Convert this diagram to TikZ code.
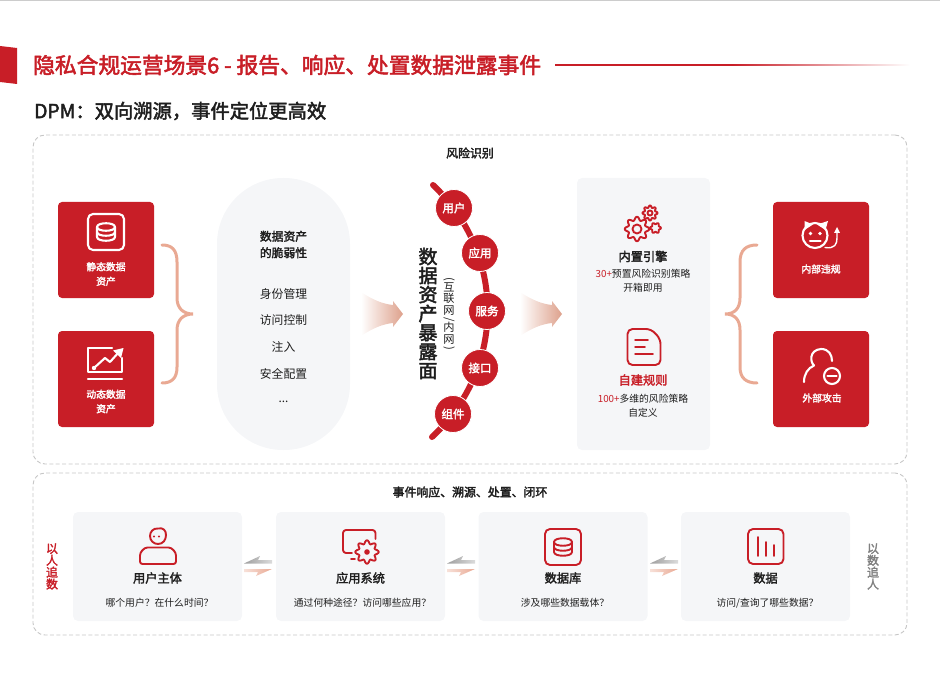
\documentclass[tikz,border=0pt]{standalone}
\usepackage{fontspec}
\setmainfont{Noto Sans CJK SC}[BoldFont=Noto Sans CJK SC, BoldFeatures={FakeBold=2.4}]
\usepackage{tikz}
\usetikzlibrary{positioning, arrows.meta, shapes.geometric, calc}
\newcommand{\pxfont}[1]{\fontsize{#1}{#1}\selectfont}
\newcommand{\sidewise}[1]{\rotatebox[origin=c]{-90}{#1}}
\definecolor{dpmred}{HTML}{C81E27}
\definecolor{dpmsalmon}{HTML}{E9A993}
\definecolor{dpmpanel}{HTML}{F5F6F8}
\definecolor{dpmdash}{HTML}{C6C6C6}
\definecolor{dpmink}{HTML}{1E1E1E}
\tikzset{
    titletxt/.style={anchor=west, inner sep=0pt, text=dpmred, font=\pxfont{21.75}\bfseries},
    subtxt/.style={anchor=west, inner sep=0pt, text=dpmink, font=\pxfont{19.3}\bfseries},
    frame/.style={draw=dpmdash, line width=0.9pt, dash pattern=on 4pt off 2.4pt, rounded corners=12pt, minimum width=874pt},
    headtxt/.style={inner sep=0pt, text=dpmink, font=\pxfont{11.9}\bfseries},
    redbox/.style={fill=dpmred, rounded corners=4pt, minimum width=96pt, minimum height=96pt},
    redlbl/.style={inner sep=0pt, text=white, align=center, font=\fontsize{9.8}{14.5}\selectfont\bfseries},
    panel/.style={fill=dpmpanel, rounded corners=5pt},
    card/.style={panel, minimum width=169pt, minimum height=109pt},
    itemtxt/.style={inner sep=0pt, text=dpmink, font=\pxfont{11.8}},
    cardttl/.style={inner sep=0pt, text=dpmink, font=\pxfont{12.2}\bfseries},
    cardsub/.style={inner sep=0pt, text=dpmink, font=\pxfont{9.8}},
    surfnode/.style={circle, fill=dpmred, draw=white, line width=0.8pt, minimum size=37pt, inner sep=0pt, text=white, font=\pxfont{11.5}\bfseries},
    stacktxt/.style={inner sep=0pt, align=center, font=\pxfont{11.9}\bfseries},
    bracepath/.style={draw=dpmsalmon, line width=3pt, line cap=round},
    redline/.style={draw=dpmred, line width=1.9pt, line cap=round, line join=round},
    whiteline/.style={draw=white, line width=2.1pt, line cap=round, line join=round},
    pics/dbicon/.style={code={
        \draw[#1, rounded corners=5pt] (-18,-18) rectangle (18,18);
        \draw[#1] (-9,-5) .. controls (-9,-10) and (9,-10) .. (9,-5) .. controls (9,0) and (-9,0) .. cycle;
        \draw[#1] (-9,-5) -- (-9,5) .. controls (-9,10) and (9,10) .. (9,5) -- (9,-5);
        \draw[#1] (-9,0) .. controls (-9,5) and (9,5) .. (9,0);
    }},
    pics/gearicon/.style 2 args={code={
        \draw[redline] plot[smooth cycle, domain=0:355, samples=72] (\x:{#1*(1+0.17*cos(#2*\x))});
    }},
    pics/fadearrow/.style={code={
        \shade[left color=white, right color=dpmsalmon!95!black] (0,-22) .. controls (12,-14) and (22,-10) .. (32,-9) -- (32,-13) -- (42,0) -- (32,13) -- (32,9) .. controls (22,10) and (12,14) .. (0,22) -- cycle;
    }},
    pics/traceflow/.style={code={
        \shade[left color=black!38, right color=black!14] (0,-2.5) -- (16,-10) -- (14,-6) -- (28,-6) -- (28,-2.5) -- cycle;
        \shade[left color=dpmsalmon!35, right color=dpmsalmon] (0,3) -- (28,3) -- (12,10) -- (14,6) -- (0,6) -- cycle;
    }},
}
\begin{document}
\begin{tikzpicture}[x=1pt, y=-1pt]
    \useasboundingbox (0,0) rectangle (940,679);
    \fill[black!20] (0,0) rectangle (940,1);
    \fill[dpmred] (0,46) -- (17,48) -- (17,84) -- (0,82) -- cycle;
    \node[titletxt] (title) at (33,65) {隐私合规运营场景6 - 报告、响应、处置数据泄露事件};
    \fill[dpmred] (555,64.2) rectangle (732,65.8);
    \shade[left color=dpmred, right color=white] (732,64.2) rectangle (910,65.8);
    \node[subtxt] (subtitle) at (34,111) {DPM：双向溯源，事件定位更高效};

    \node[frame, minimum height=329pt] (riskframe) at (470,299.5) {};
    \node[headtxt] (riskhead) at (470,153) {风险识别};

    \node[redbox] (staticbox) at (106,250) {};
    \node[redbox] (dynamicbox) at (106,379) {};
    \pic at (106,232) {dbicon=whiteline};
    \node[redlbl] (staticlbl) at (106,274) {静态数据\\资产};
    \draw[whiteline] (112,348) -- (88,348) -- (88,372) -- (122,372) -- (122,358);
    \draw[whiteline] (88,379) -- (122,379);
    \draw[whiteline] (94,368) -- (105,358) -- (110,362) -- (119,352);
    \fill[white] (94,368) circle (2.2pt);
    \fill[white] (123.5,348) -- (113,350.5) -- (121,358) -- cycle;
    \node[redlbl] (dynamiclbl) at (106,401.5) {动态数据\\资产};
    \draw[bracepath] (162,245) .. controls (172,245) and (177,250) .. (177,262) -- (177,298) .. controls (177,308) and (183,314) .. (193,314) .. controls (183,314) and (177,320) .. (177,330) -- (177,367) .. controls (177,378) and (172,383) .. (162,383);

    \node[panel, rounded corners=66pt, minimum width=133pt, minimum height=272pt] (weakpanel) at (283.5,314) {};
    \node[inner sep=0pt, align=center, text=dpmink, font=\fontsize{11.8}{16.5}\selectfont\bfseries] (weakhead) at (283.5,244.5) {数据资产\\的脆弱性};
    \node[itemtxt] (item1) at (283.5,294) {身份管理};
    \node[itemtxt] (item2) at (283.5,320.5) {访问控制};
    \node[itemtxt] (item3) at (283.5,347) {注入};
    \node[itemtxt] (item4) at (283.5,374) {安全配置};
    \node[itemtxt] (item5) at (283.5,402) {...};

    \pic at (361,314) {fadearrow};
    \pic at (520,314) {fadearrow};

    \coordinate (arctop) at (433,185);
    \coordinate (arcbot) at (432,437);
    \draw[draw=dpmred, line width=6pt, line cap=round] (arctop) .. controls (506,254) and (506,368) .. (arcbot);
    \node[surfnode] (user) at (454,208) {用户};
    \node[surfnode] (app) at (480,253) {应用};
    \node[surfnode] (service) at (487,311) {服务};
    \node[surfnode] (port) at (480,368) {接口};
    \node[surfnode] (comp) at (453,414) {组件};
    \node[inner sep=0pt, align=center, text=dpmink, font=\pxfont{19}\bfseries] (surftxt) at (428,313.5) {数\\据\\资\\产\\暴\\露\\面};
    \node[inner sep=0pt, align=center, text=dpmink, font=\fontsize{11.2}{11.6}\selectfont] (surfnote) at (449,314.5) {\sidewise{(}\\[-3pt]互\\联\\网\\[-3pt]\sidewise{/}\\[-3pt]内\\网\\[-3pt]\sidewise{)}};

    \node[panel, minimum width=133pt, minimum height=272pt] (rulepanel) at (643.5,314) {};
    \pic at (637,229) {gearicon={10.5}{8}};
    \draw[redline] (637,229) circle (4.5pt);
    \pic at (650,213) {gearicon={6.5}{8}};
    \draw[redline] (650,213) circle (2.5pt);
    \pic at (655.5,228) {gearicon={4.6}{6}};
    \node[cardttl] (enginettl) at (643,256.5) {内置引擎};
    \node[cardsub] (enginesub1) at (643,274) {\textcolor{dpmred}{30+}预置风险识别策略};
    \node[cardsub] (enginesub2) at (643,288) {开箱即用};
    \draw[redline, rounded corners=5pt] (640,329) -- (651,329) -- (660.5,339) -- (660.5,365) -- (627.5,365) -- (627.5,329) -- cycle;
    \draw[redline, line width=1.5pt] (635,340) -- (648,340);
    \draw[redline, line width=1.5pt] (635,347) -- (645,347);
    \draw[redline, line width=1.5pt] (635,354) -- (653,354);
    \node[cardttl, text=dpmred] (customttl) at (643,380) {自建规则};
    \node[cardsub] (customsub1) at (643,399) {\textcolor{dpmred}{100+}多维的风险策略};
    \node[cardsub] (customsub2) at (643,413) {自定义};

    \draw[bracepath] (757,245) .. controls (746,245) and (740,250) .. (740,262) -- (740,298) .. controls (740,308) and (735,314) .. (725,314) .. controls (735,314) and (740,320) .. (740,330) -- (740,367) .. controls (740,378) and (746,383) .. (757,383);

    \node[redbox] (insidebox) at (821,250) {};
    \node[redbox] (outsidebox) at (821,379) {};
    \draw[whiteline] (815,235.5) circle (12.5pt);
    \fill[white] (804.5,230) -- (804.5,221) -- (813,224.5) -- cycle;
    \fill[white] (825.5,230) -- (828,221) -- (817,224.5) -- cycle;
    \fill[white] (810.5,233.5) circle (1.8pt) (820,233.5) circle (1.8pt);
    \draw[whiteline] (810,241) -- (820.5,241);
    \draw[whiteline, line width=1.4pt] (825,247.5) .. controls (835,249) and (837,244) .. (837,238) -- (837,231);
    \fill[white] (837,227) -- (834,233) -- (840,233) -- cycle;
    \node[redlbl] (insidelbl) at (821,269) {内部违规};
    \draw[whiteline] (804,382) .. controls (804,374) and (808,368) .. (814,365.5) .. controls (810,362) and (809,350) .. (821,349) .. controls (829,349) and (832,355) .. (832,361);
    \draw[whiteline] (832,376) circle (8pt);
    \draw[whiteline] (827.5,376) -- (836.5,376);
    \node[redlbl] (outsidelbl) at (822,398) {外部攻击};

    \node[frame, minimum height=162pt] (respframe) at (470,554) {};
    \node[headtxt] (resphead) at (470,492) {事件响应、溯源、处置、闭环};
    \node[card] (usercard) at (157.5,566.5) {};
    \node[card] (appcard) at (360.5,566.5) {};
    \node[card] (dbcard) at (563,566.5) {};
    \node[card] (datacard) at (765.5,566.5) {};

    \draw[redline] (158,528.5) .. controls (153,528) and (150,532) .. (150,536) .. controls (150,541) and (154,544) .. (158,544) .. controls (163,544) and (166,540) .. (166,535) .. controls (166,530) and (163,527.5) .. (158,528.5);
    \fill[dpmred] (154,536.5) circle (1.2pt) (159,536.5) circle (1.2pt);
    \draw[redline, rounded corners=2.5pt] (140,564) -- (176,564) -- (176,558) .. controls (176,552) and (172,547.5) .. (166,547.5) -- (150,547.5) .. controls (144,547.5) and (140,552) .. (140,558) -- cycle;
    \node[cardttl] (userttl) at (157.5,578) {用户主体};
    \node[cardsub] (usersub) at (159.5,603) {哪个用户？在什么时间？};

    \draw[redline, rounded corners=3pt] (352,553) -- (343,553) -- (343,530) -- (375.5,530) -- (375.5,539);
    \draw[redline] (351,559) -- (355,559);
    \pic at (367,552) {gearicon={10}{8}};
    \fill[dpmred] (367,552) circle (2.8pt);
    \node[cardttl] (appttl) at (360.5,578) {应用系统};
    \node[cardsub] (appsub) at (362.5,603) {通过何种途径？访问哪些应用？};

    \pic at (563,547) {dbicon=redline};
    \node[cardttl] (dbttl) at (563,578) {数据库};
    \node[cardsub] (dbsub) at (565,603) {涉及哪些数据载体？};

    \draw[redline, rounded corners=5pt] (748,529) rectangle (783.5,564);
    \draw[redline] (758,537) -- (758,556);
    \draw[redline] (766,542) -- (766,556);
    \draw[redline] (774,545) -- (774,556);
    \node[cardttl] (datattl) at (765.5,578) {数据};
    \node[cardsub] (datasub) at (767.5,603) {访问/查询了哪些数据？};

    \pic at (244,566) {traceflow};
    \pic at (447,566) {traceflow};
    \pic at (650,566) {traceflow};

    \node[stacktxt, text=dpmred] (bypeople) at (52,566.5) {以\\人\\追\\数};
    \node[stacktxt, text=black!50] (bydata) at (873,566.5) {以\\数\\追\\人};
\end{tikzpicture}
\end{document}
